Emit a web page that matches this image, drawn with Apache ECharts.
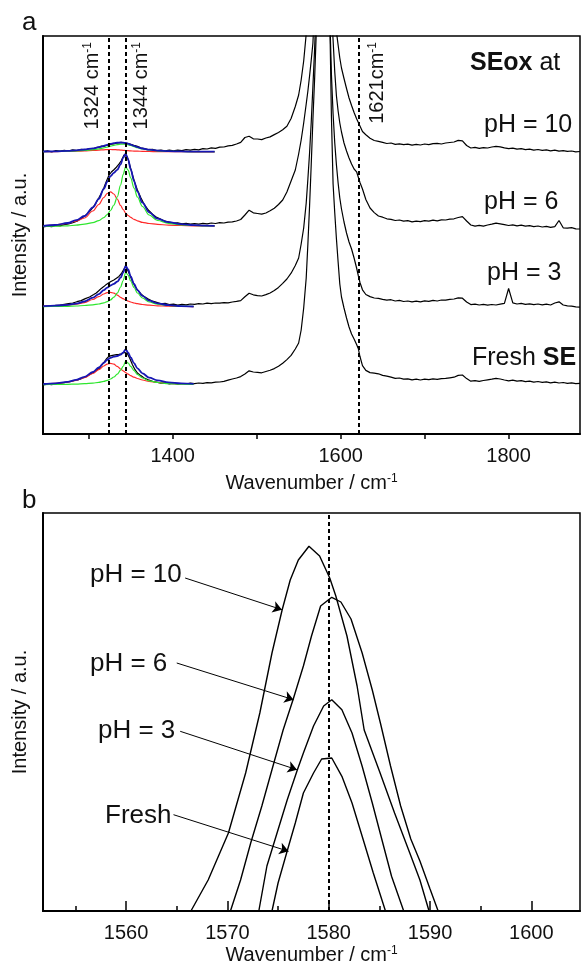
<!DOCTYPE html>
<html><head><meta charset="utf-8">
<script src="https://cdn.jsdelivr.net/npm/echarts@6/dist/echarts.min.js"></script>
<style>html,body{margin:0;padding:0;background:#fff;} #c{width:581px;height:964px;}</style>
</head><body><div id="c"></div>
<script>
// ---------- Panel a : Raman spectra ----------
const wavenumberA = [
  1246,1251,1256,1261,1266,1271,1276,1281,1286,1291,1296,1301,1306,
  1309,1312,1315,1318,1321,1324,1327,1330,1333,1336,1339,1342,1344,1346,1349,1352,1355,1358,1362,
  1366,1371,1376,1381,1386,1391,1396,1401,1406,1411,1416,1421,1426,1431,1436,1441,1446,1451,1456,1461,1466,1471,1476,1481,1486,1491,1496,1501,1506,1511,1516,1521,1526,1531,1536,1541,1546,
  1550,1553,1556,1559,1561,1563,1565,1567,1569,1571,1574,1578,1582,1585,1587,1589,1591,1593,1595,1597,1599,1601,1604,1607,1610,1613,1616,1619,1621,1623,1626,1630,
  1635,1640,1645,1650,1655,1660,1665,1670,1675,1680,1685,1690,1695,1700,1705,1710,1715,1720,1725,1730,1735,1740,1745,1750,1755,1760,1765,1770,1775,1780,1785,1790,1795,1800,1805,1810,1815,1820,1825,1830,1835,1840,1845,1850,1855,1860,1865,1870,1875,1880,1885
];
const spectrumPH10 = [
  282.4,283.1,282.2,283.4,282.8,283.6,283.0,284.1,283.5,284.6,284.2,285.3,285.5,
  286.4,286.8,287.9,287.6,288.7,289.0,289.9,290.2,290.8,291.1,291.6,291.2,291.5,290.6,290.0,289.2,288.3,287.6,286.2,
  285.4,284.3,284.6,283.5,284.0,283.2,283.8,283.1,283.9,283.4,284.3,283.8,284.7,284.2,285.3,285.0,286.1,285.7,286.9,287.0,288.2,288.6,290.0,291.6,296.5,297.8,295.2,295.0,294.4,296.0,297.1,299.4,301.5,304.2,307.8,315.5,327.5,
  339,354,373,400,430,470,520,580,640,700,760,800,760,700,640,560,490,440,402,389,376,366,355.5,345.5,336,328.5,321.5,315.2,314.0,308.0,302.5,299.2,
  295.8,293.5,292.6,291.6,290.5,291.0,289.6,290.2,289.3,289.8,288.9,289.6,289.0,290.0,289.4,290.3,290.6,290.0,291.0,291.5,292.0,293.6,293.2,288.5,286.0,286.6,285.6,286.4,286.0,287.0,287.6,287.2,286.2,285.4,285.9,284.8,285.3,284.4,284.8,283.9,284.5,283.6,284.1,283.2,283.8,282.9,283.4,282.6,283.0,282.2,282.5
];
const spectrumPH6 = [
  207.2,207.9,207.4,208.5,208.2,209.4,210.0,211.3,212.8,215.5,218.6,222.4,227.6,
  231.5,236.0,240.8,246.0,252.5,258.5,262.0,264.3,266.8,269.8,273.5,279.0,280.5,277.0,268.5,259.5,251.0,244.0,236.5,
  229.8,224.0,219.8,216.6,214.7,212.8,212.0,210.8,211.2,210.1,210.6,209.8,210.4,209.9,210.6,210.2,211.0,210.5,211.4,211.0,211.8,212.2,213.0,214.5,219.0,223.8,221.2,220.5,219.8,221.0,223.2,225.8,229.5,234.0,242.0,253.0,264.0,
  280,294,311,330,343,358,374,391,430,480,560,640,600,520,470,425,394,362,338,323,311,302,291,283,276,270,265,262.2,261.3,251.5,245.0,234.5,
  226.0,221.4,218.0,216.8,215.2,214.6,213.5,214.0,212.8,213.3,212.2,212.9,212.4,213.4,212.8,213.8,213.2,214.2,214.0,214.8,215.2,216.5,217.4,213.0,209.0,207.8,208.6,207.9,209.0,209.8,210.8,210.2,209.4,208.5,209.2,208.2,208.8,207.8,208.4,207.4,208.0,207.0,207.6,206.6,207.4,213.5,206.2,205.8,206.3,205.2,205.0
];
const spectrumPH3 = [
  127.4,128.0,127.6,128.6,128.9,129.7,130.4,131.0,132.3,133.4,135.4,137.0,139.4,
  141.0,143.2,145.6,147.4,149.6,151.2,152.8,154.0,155.7,157.6,160.5,165.0,167.3,164.8,159.0,153.0,148.0,144.2,140.4,
  137.4,134.9,132.8,131.6,130.2,130.6,129.5,129.9,128.9,129.6,129.2,130.0,129.6,130.3,130.0,130.8,130.4,131.0,130.8,131.4,131.2,132.0,132.6,133.4,137.2,140.8,139.2,138.4,138.0,139.4,141.0,143.4,146.6,150.6,155.0,160.8,168.5,
  176,190,206,231,255,281,312,348,385,430,520,600,560,480,420,360,320,291,269,251,236,225,212,201,192,185,176,166,158.5,151.5,144.2,139.5,
  137.4,136.0,135.6,134.6,133.9,134.3,133.0,133.6,132.5,133.0,132.2,132.8,132.2,133.2,132.6,133.6,133.0,134.0,133.8,134.6,135.0,136.2,135.8,132.0,129.4,129.9,129.0,129.6,128.8,129.5,129.0,129.8,130.6,145.5,131.2,130.0,130.6,129.6,130.2,129.4,130.0,129.2,129.8,129.0,131.0,132.2,129.0,128.2,127.8,127.2,126.8
];
const spectrumFresh = [
  49.0,49.8,49.4,50.4,50.9,51.4,52.3,53.0,54.2,55.2,57.0,59.2,61.8,
  63.5,65.2,68.4,71.5,75.0,77.6,78.4,78.9,79.4,79.6,80.2,81.6,82.3,80.6,75.4,69.6,64.6,61.0,58.4,
  55.9,54.2,52.6,51.9,50.8,51.2,50.2,50.6,49.8,50.5,50.0,50.9,50.4,51.0,50.6,51.4,51.2,51.9,52.0,52.6,53.8,55.0,56.0,57.4,60.0,63.2,62.0,61.6,61.2,62.5,63.8,65.4,67.8,70.8,74.4,78.6,85.0,
  91,104,126,156,190,228,270,315,355,402,480,560,520,470,420,318,250,221,195,172,150,137,126,116,107,100,95,89.5,85.5,77.5,68.4,63.6,
  61.4,60.8,60.2,58.6,57.8,56.9,55.6,56.0,54.8,55.2,54.2,54.8,54.0,54.9,54.3,55.2,54.6,55.4,55.6,56.2,56.8,58.6,59.0,55.4,52.8,53.4,52.6,53.5,54.2,54.8,55.7,55.0,54.0,53.2,53.8,52.8,53.4,52.4,52.9,51.9,52.5,51.6,52.2,51.2,51.8,51.0,51.5,50.6,51.1,50.4,50.7
];

// peak fits (1324 band = red, 1344 band = green, sum = blue)
const fitX = [1246,1260,1275,1285,1295,1305,1312,1318,1322,1326,1330,1334,1338,1341,1344,1347,1350,1354,1358,1364,1372,1382,1395,1410,1425,1438,1450];
const fitPH10Red   = [282.3,282.4,282.6,282.8,283.1,283.5,283.9,284.2,284.4,284.5,284.4,284.2,283.9,283.7,283.5,283.3,283.1,282.9,282.8,282.7,282.5,282.4,282.3,282.3,282.2,282.2,282.2];
const fitPH10Green = [282.4,282.5,282.8,283.1,283.6,284.3,285.1,286.1,286.9,287.8,288.7,289.4,289.8,289.9,289.7,289.2,288.5,287.4,286.3,285.0,284.0,283.2,282.7,282.5,282.3,282.3,282.3];
const fitPH10Blue  = [282.5,282.7,283.2,283.7,284.5,285.6,286.8,288.1,289.1,290.1,290.9,291.4,291.5,291.4,291.0,290.3,289.4,288.1,286.9,285.5,284.3,283.4,282.8,282.6,282.3,282.3,282.3];
const fitPH6Red    = [208.2,209.0,210.6,212.8,216.0,223.0,229.5,236.5,240.5,242.2,240.0,235.0,228.5,224.5,221.0,218.5,216.6,214.6,213.2,211.6,210.5,209.6,208.9,208.5,208.2,208.0,207.9];
const fitPH6Green  = [207.6,207.8,208.2,208.8,209.8,211.4,213.4,216.4,219.4,223.5,229.0,237.0,249.0,259.5,267.2,264.0,256.0,246.0,237.0,227.5,219.0,213.5,210.7,209.2,208.5,208.2,208.0];
const fitPH6Blue   = [208.0,209.0,211.0,213.8,218.0,226.6,235.1,245.1,252.1,257.9,261.2,264.2,269.7,276.2,280.4,274.7,264.8,252.8,242.4,231.3,221.7,215.3,211.8,209.9,208.9,208.4,208.1];
const fitPH3Red    = [127.8,128.2,128.9,129.8,131.4,134.5,137.3,140.0,141.3,141.7,140.8,138.9,136.7,135.3,134.0,132.9,132.0,131.0,130.3,129.5,128.8,128.2,127.8,127.5,127.4];
const fitPH3Green  = [127.4,127.5,127.7,128.0,128.5,129.2,130.0,131.2,132.4,134.2,136.8,140.8,147.0,153.5,161.5,159.0,153.0,146.5,141.0,136.0,132.0,129.8,128.5,127.8,127.5];
const fitPH3Blue   = [127.8,128.3,129.2,130.4,132.5,136.3,139.9,143.8,146.3,148.5,150.2,152.3,156.3,161.4,168.1,164.5,157.6,150.1,143.9,138.1,133.4,130.6,128.9,127.9,127.5];
const fitFreshRed  = [50.0,50.6,51.8,53.6,56.3,60.5,64.3,68.0,69.9,70.6,69.8,67.6,65.0,63.2,61.4,59.8,58.4,56.8,55.5,54.0,52.6,51.5,50.7,50.2,50.0];
const fitFreshGreen= [49.4,49.5,49.7,49.9,50.3,50.9,51.6,52.6,53.6,55.0,57.0,59.8,63.8,67.6,72.6,71.0,67.6,63.4,59.6,56.0,53.2,51.5,50.4,49.9,49.6];
const fitFreshBlue = [50.0,50.7,52.1,54.1,57.2,62.0,66.5,71.2,74.1,76.2,77.4,78.0,79.4,81.4,84.6,81.4,76.6,70.8,65.7,60.6,56.4,53.6,51.7,50.7,50.2];

const ticksA = [1300,1400,1500,1600,1700,1800];
const tickLabelsA = [1400,1600,1800];
const bandLinesA = [1324,1344,1621];

// ---------- Panel b : G band zoom ----------
const bXPH10 = [1566.4,1568.1,1570.1,1571.8,1573.2,1574.4,1575.4,1576.2,1577.0,1578.05,1579.1,1580.1,1580.7,1581.8,1582.8,1583.5,1585.0,1586.5,1588.0,1589.0,1589.9];
const bYPH10 = [0,31,78,138,198,258,301,331,351,364.7,355,333,315,275,225,181,140,98,58,31,0];
const bXPH6  = [1570.3,1571.3,1572.3,1573.4,1574.5,1575.5,1576.5,1577.5,1578.3,1579.2,1580.3,1581.2,1582.2,1583.3,1584.3,1585.1,1586.1,1587.1,1588.1,1589.0,1590.0,1590.8];
const bYPH6  = [0,31,68,105,145,181,212,245,275,305,313.7,309,292,258,221,188,145,105,72,50,22,0];
const bXPH3  = [1573.1,1573.9,1574.9,1575.9,1576.9,1577.5,1578.5,1579.5,1580.3,1581.3,1582.3,1583.3,1584.3,1585.25,1586.2,1587.4];
const bYPH3  = [0,45,78,111,141,158,185,205,211.3,201.3,178,144.7,108,71.3,34.7,0];
const bXFresh= [1574.4,1575.0,1575.9,1576.7,1577.5,1578.5,1579.3,1580.3,1581.3,1582.3,1583.3,1584.4,1585.6];
const bYFresh= [0,28,60,88,118,138,152,153,134.7,108,74.7,38,0];
const ticksB = [1560,1570,1580,1590,1600];
const minorTicksB = [1555,1565,1575,1585,1595];
const bandLinesB = [1580];
// annotation arrows [fromX, fromY, toX, toY]
const arrowsB = [[1565.83,333,1575.38,301.3],[1565.0,248,1576.53,211.3],[1565.34,179.7,1576.86,141.3],[1564.68,96.3,1576.03,59.7]];

// ---------- build ----------
const FF = '"Liberation Sans", Arial, Helvetica, sans-serif';
const INK = '#111';
const zip = (xs, ys) => xs.map((x, i) => [x, ys[i]]);
function ln(data, xi, yi, color, width, smooth, extra) {
  return Object.assign({
    type: 'line', data, xAxisIndex: xi, yAxisIndex: yi, showSymbol: false, symbol: 'none',
    smooth: smooth ? 0.35 : false, smoothMonotone: 'x', clip: true, silent: true,
    lineStyle: { color, width }, emphasis: { disabled: true }, animation: false
  }, extra || {});
}
const dashStyle = { color: '#000', width: 2, type: [4, 3] };

const series = [];
series.push(ln(zip(wavenumberA, spectrumPH10), 0, 0, '#000', 1.2, false, {
  markLine: { silent: true, symbol: 'none', animation: false, label: { show: false },
    lineStyle: dashStyle, data: bandLinesA.map(v => ({ xAxis: v })) }
}));
series.push(ln(zip(wavenumberA, spectrumPH6), 0, 0, '#000', 1.2));
series.push(ln(zip(wavenumberA, spectrumPH3), 0, 0, '#000', 1.2));
series.push(ln(zip(wavenumberA, spectrumFresh), 0, 0, '#000', 1.2));
const RED = '#ff2a2a', GREEN = '#2ee62e', BLUE = '#1616b4';
[[fitPH10Red, fitPH10Green, fitPH10Blue], [fitPH6Red, fitPH6Green, fitPH6Blue],
 [fitPH3Red, fitPH3Green, fitPH3Blue], [fitFreshRed, fitFreshGreen, fitFreshBlue]].forEach(f => {
  const xs = fitX.slice(0, f[0].length);
  series.push(ln(zip(xs, f[0]), 0, 0, RED, 1.2, true));
  series.push(ln(zip(xs, f[1]), 0, 0, GREEN, 1.2, true));
  series.push(ln(zip(xs, f[2]), 0, 0, BLUE, 1.8, true));
});
series.push(ln(zip(bXPH10, bYPH10), 1, 1, '#000', 1.4, false, {
  markLine: { silent: true, symbol: 'none', animation: false, label: { show: false },
    lineStyle: dashStyle, data: bandLinesB.map(v => ({ xAxis: v })) }
}));
series.push(ln(zip(bXPH6, bYPH6), 1, 1, '#000', 1.4));
series.push(ln(zip(bXPH3, bYPH3), 1, 1, '#000', 1.4));
series.push(ln(zip(bXFresh, bYFresh), 1, 1, '#000', 1.4, false, {
  markLine: { silent: true, symbol: ['none', 'arrow'], symbolSize: 9, animation: false, label: { show: false },
    lineStyle: { color: '#000', width: 1, type: 'solid' },
    data: arrowsB.map(a => [{ coord: [a[0], a[1]] }, { coord: [a[2], a[3]] }]) }
}));

const nameStyle = { fontSize: 20, fontFamily: FF, color: INK,
  rich: { s: { fontSize: 12, fontFamily: FF, color: INK, verticalAlign: 'top' } } };
function xAx(grid, min, max, ticks, labels, inside, tlen, gap) {
  return {
    type: 'value', gridIndex: grid, min, max, position: 'bottom',
    axisLine: { show: true, onZero: false, lineStyle: { color: '#000', width: 2 } },
    axisTick: { show: true, inside, length: tlen, customValues: ticks, lineStyle: { color: '#000', width: 1.5 } },
    axisLabel: { show: true, customValues: labels, margin: 12, fontSize: 20, fontFamily: FF, color: INK,
      formatter: v => String(v) },
    splitLine: { show: false },
    name: 'Wavenumber / cm{s|-1}', nameLocation: 'middle', nameGap: gap, nameTextStyle: nameStyle
  };
}
function yAx(grid) {
  return {
    type: 'value', gridIndex: grid, min: 0, max: 398,
    axisLine: { show: true, lineStyle: { color: '#000', width: 2 } },
    axisTick: { show: false }, axisLabel: { show: false }, splitLine: { show: false },
    name: 'Intensity / a.u.', nameLocation: 'middle', nameGap: 13,
    nameTextStyle: { fontSize: 20, fontFamily: FF, color: INK }
  };
}
const minorAxis = {
  type: 'value', gridIndex: 1, min: 1551.8, max: 1604.8, position: 'bottom',
  axisLine: { show: false }, axisLabel: { show: false }, splitLine: { show: false },
  axisTick: { show: true, inside: true, length: 5, customValues: minorTicksB, lineStyle: { color: '#000', width: 1.5 } }
};

function font(size, weight) { return { fontSize: size, fontFamily: FF, fontWeight: weight || 'normal', fill: INK }; }
function label(x, y, text, size, rich) {
  return { type: 'text', x, y, silent: true,
    style: Object.assign({ text, align: 'left', verticalAlign: 'middle', textAlign: 'left', textVerticalAlign: 'middle', rich }, font(size)) };
}
function vlabel(x, y, main, sup) {
  return { type: 'text', x, y, rotation: Math.PI / 2, silent: true,
    style: Object.assign({ text: '{m|' + main + '}{s|' + sup + '}', align: 'right', verticalAlign: 'middle',
      textAlign: 'right', textVerticalAlign: 'middle',
      rich: { m: font(20), s: Object.assign(font(12), { verticalAlign: 'top' }) } }, font(20)) };
}
const richBold = { b: font(25, 'bold'), r: font(25) };
const graphics = [
  label(22, 23, 'a', 26),
  label(470, 63, '{b|SEox}{r| at}', 25, richBold),
  label(484, 125, 'pH = 10', 25),
  label(484, 202, 'pH = 6', 25),
  label(487, 273, 'pH = 3', 25),
  label(472, 358, '{r|Fresh }{b|SE}', 25, richBold),
  vlabel(92, 42, '1324 cm', '-1'),
  vlabel(141, 42, '1344 cm', '-1'),
  vlabel(377, 42, '1621cm', '-1'),
  label(22, 501, 'b', 26),
  label(90, 575, 'pH = 10', 26),
  label(90, 664, 'pH = 6', 26),
  label(98, 731, 'pH = 3', 26),
  label(105, 816, 'Fresh', 26)
];

const option = {
  animation: false,
  backgroundColor: '#fff',
  grid: [
    { left: 43, top: 36, width: 537, height: 398, show: true, borderColor: '#000', borderWidth: 1.5, containLabel: false, outerBoundsMode: 'none' },
    { left: 43, top: 513, width: 537, height: 398, show: true, borderColor: '#000', borderWidth: 1.5, containLabel: false, outerBoundsMode: 'none' }
  ],
  xAxis: [
    xAx(0, 1245.6, 1885, ticksA, tickLabelsA, false, 5, 39),
    xAx(1, 1551.8, 1604.8, ticksB, ticksB, true, 10, 34),
    minorAxis
  ],
  yAxis: [yAx(0), yAx(1)],
  series,
  graphic: graphics
};
const chart = echarts.init(document.getElementById('c'), null, { renderer: 'canvas' });
chart.setOption(option);
</script></body></html>
